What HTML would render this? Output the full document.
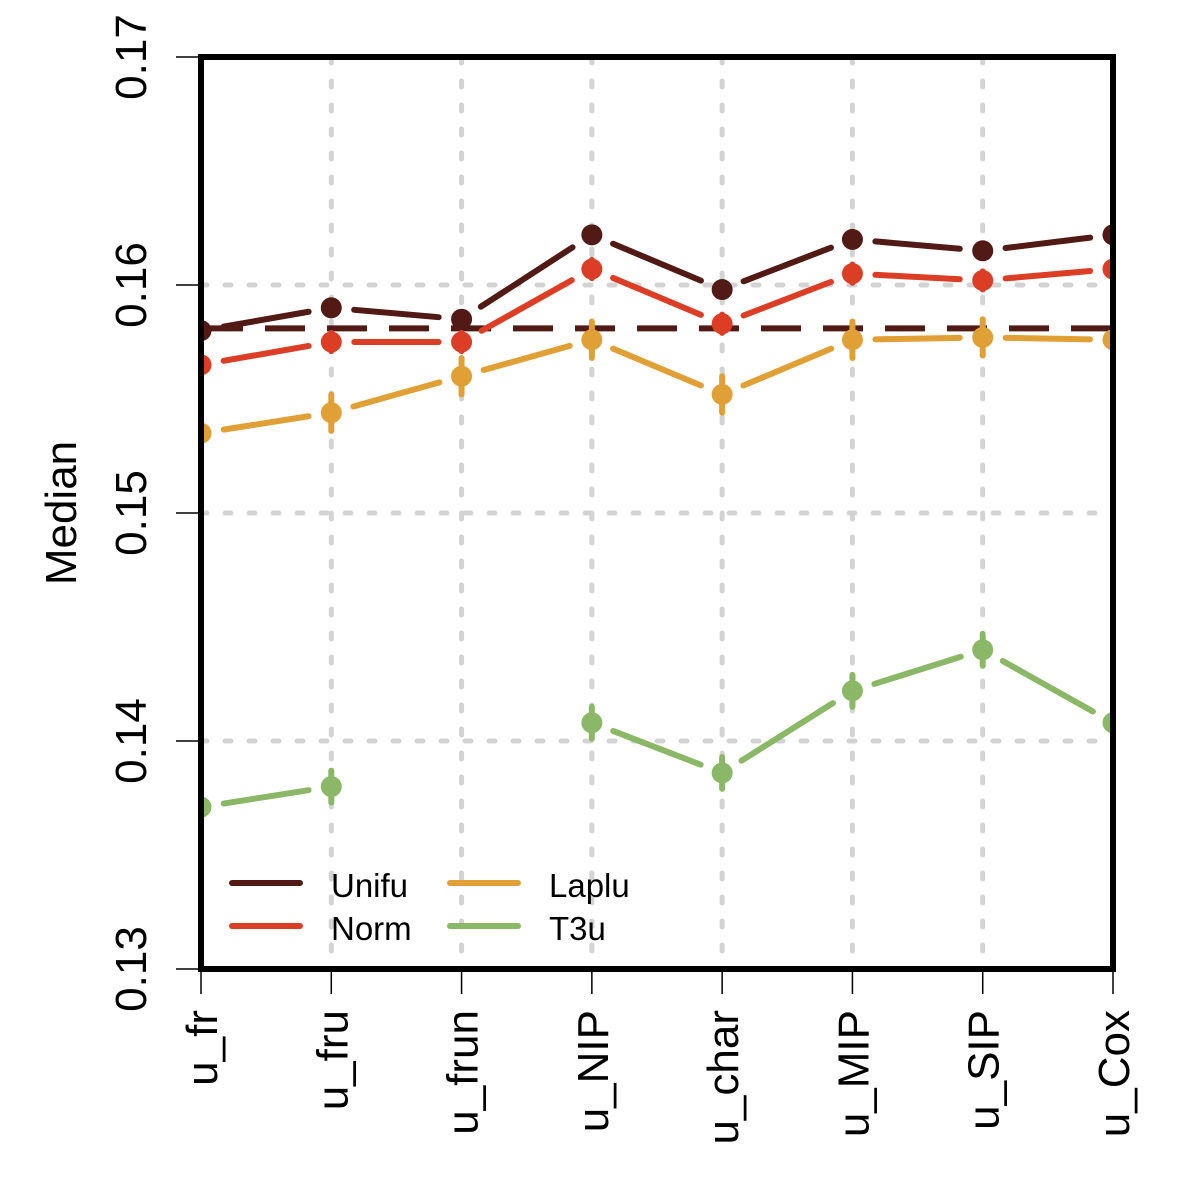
<!DOCTYPE html>
<html><head><meta charset="utf-8"><style>body{margin:0;background:#fff}svg{display:block;font-family:"Liberation Sans",Arial,sans-serif}</style></head>
<body>
<svg id="c" width="1200" height="1200" viewBox="0 0 1200 1200"></svg>
<script>
const categories=["u_fr","u_fru","u_frun","u_NIP","u_char","u_MIP","u_SIP","u_Cox"];
const yTicks=[0.13,0.14,0.15,0.16,0.17];
const seriesNames=["Unifu","Norm","Laplu","T3u"];
const unifu=[0.1580,0.1590,0.1585,0.1622,0.1598,0.1620,0.1615,0.1622];
const norm=[0.1565,0.1575,0.1575,0.1607,0.1583,0.1605,0.1602,0.1607];
const laplu=[0.1535,0.1544,0.1560,0.1576,0.1552,0.1576,0.1577,0.1576];
const t3u=[0.1371,0.1380,null,0.1408,0.1386,0.1422,0.1440,0.1408];
const errs=[0.0002,0.0004,0.0008,0.0007];
const refLine=0.1581;
const colors=["#521a14","#dc3d25","#e1a035","#8ab866"];
const L=201,R=1113,T=57,B=969;
const sx=i=>L+i*(R-L)/(categories.length-1);
const sy=v=>B-(v-0.13)/(0.04)*(B-T);
const svg=document.getElementById('c');
const NS="http://www.w3.org/2000/svg";
function mk(tag,attrs,parent){const e=document.createElementNS(NS,tag);for(const k in attrs)e.setAttribute(k,attrs[k]);(parent||svg).appendChild(e);return e;}
const defs=mk('defs',{});const cp=mk('clipPath',{id:'pc'},defs);mk('rect',{x:L,y:T,width:R-L,height:B-T},cp);
yTicks.slice(1,4).forEach(v=>{const g=mk('line',{x1:L,x2:R,y1:sy(v),y2:sy(v),stroke:'#d3d3d3','stroke-width':5,'stroke-linecap':'round','stroke-dasharray':'6 18'});

});
categories.forEach((c,i)=>{if(i==0||i==categories.length-1)return;const g=mk('line',{x1:sx(i),x2:sx(i),y1:T,y2:B,stroke:'#d3d3d3','stroke-width':5,'stroke-linecap':'round','stroke-dasharray':'6 18'});

});
const plot=mk('g',{'clip-path':'url(#pc)'});


const ref=mk('line',{x1:L,x2:R,y1:sy(refLine),y2:sy(refLine),stroke:colors[0],'stroke-width':6,'stroke-dasharray':'40 22','stroke-dashoffset':'-2'},plot);


[unifu,norm,laplu,t3u].forEach((s,k)=>{
 const g=mk('g',{},plot);
 
 
 for(let i=0;i<s.length-1;i++){if(s[i]==null||s[i+1]==null)continue;
  const x1=sx(i),y1=sy(s[i]),x2=sx(i+1),y2=sy(s[i+1]);const d=Math.hypot(x2-x1,y2-y1),gap=23;
  const ux=(x2-x1)/d,uy=(y2-y1)/d;
  const ln=mk('line',{x1:x1+ux*gap,y1:y1+uy*gap,x2:x2-ux*gap,y2:y2-uy*gap,stroke:colors[k],'stroke-width':6,'stroke-linecap':'round'},g);
  
  }
 s.forEach((v,i)=>{if(v==null)return;
  const eb=mk('line',{x1:sx(i),x2:sx(i),y1:sy(v-errs[k]),y2:sy(v+errs[k]),stroke:colors[k],'stroke-width':6,'stroke-linecap':'round'},g);
  
  
  const p=mk('circle',{cx:sx(i),cy:sy(v),r:10.5,fill:colors[k]},g);
  
  });
});
const fr=mk('rect',{x:L,y:T,width:R-L,height:B-T,fill:'none',stroke:'#000','stroke-width':6});


yTicks.forEach(v=>{const y=sy(v);const t=mk('line',{x1:176,x2:L,y1:y,y2:y,stroke:'#000','stroke-width':1.5});


const tx=mk('text',{x:0,y:0,transform:`translate(146,${y}) rotate(-90)`,'text-anchor':'middle','font-size':44});tx.textContent=v.toFixed(2);

});
const yl=mk('text',{transform:'translate(76,513) rotate(-90)','text-anchor':'middle','font-size':44});yl.textContent='Median';


categories.forEach((c,i)=>{const x=sx(i);const t=mk('line',{x1:x,x2:x,y1:B,y2:994,stroke:'#000','stroke-width':1.5});


const tx=mk('text',{transform:`translate(${x+16},1010) rotate(-90)`,'text-anchor':'end','font-size':44});tx.textContent=c;

});
const lg=mk('g',{});


[[232,883],[232,926],[450,883],[450,926]].forEach((p,k)=>{
 const e=mk('g',{},lg);
 
 
 mk('line',{x1:p[0],x2:p[0]+68,y1:p[1],y2:p[1],stroke:colors[k],'stroke-width':6,'stroke-linecap':'round'},e);
 const t=mk('text',{x:p[0]+99,y:p[1]+14,'font-size':33},e);t.textContent=seriesNames[k];
});
</script>
</body></html>
